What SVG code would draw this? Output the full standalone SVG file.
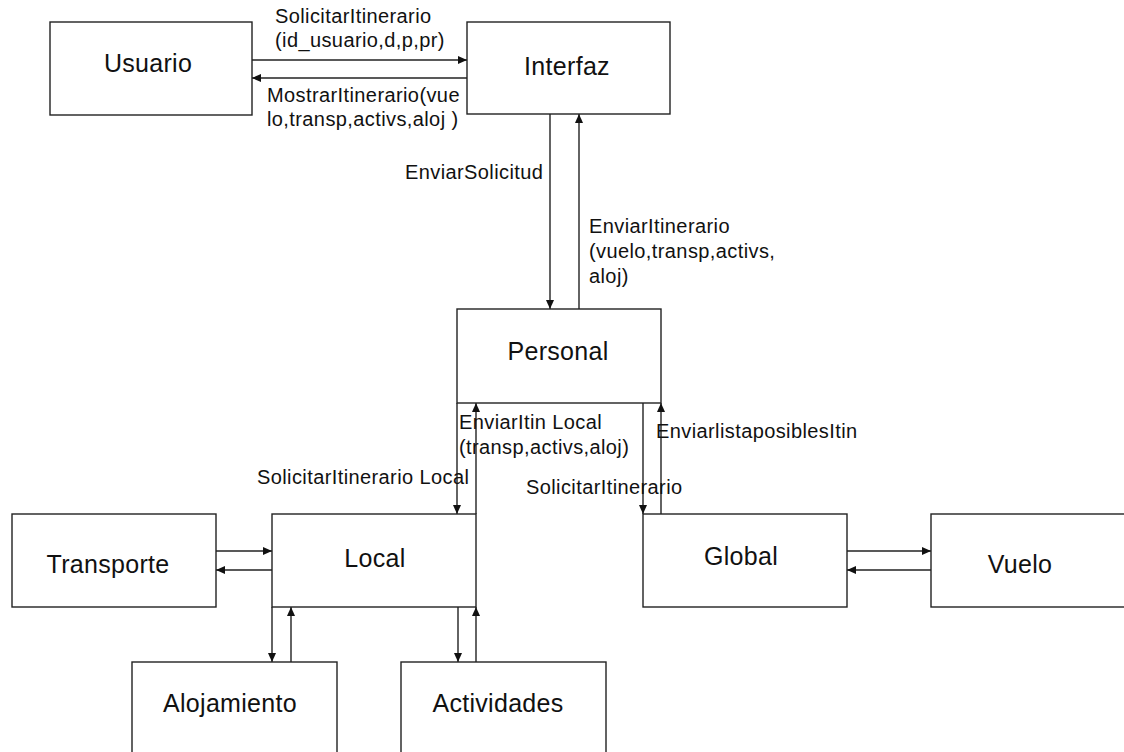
<svg xmlns="http://www.w3.org/2000/svg" width="1124" height="752" viewBox="0 0 1124 752">
  <style>
    .box { fill: #ffffff; stroke: #222222; stroke-width: 1.4; }
    .name { font-family: "Liberation Sans", Arial, sans-serif; font-size: 25px; fill: #111111; text-anchor: middle; letter-spacing: 0.3px; }
    .lbl { font-family: "Liberation Sans", Arial, sans-serif; font-size: 20px; fill: #111111; letter-spacing: 0.4px; }
    .wire { fill: none; stroke: #222222; stroke-width: 1.4; marker-end: url(#head); }
  </style>
  <defs>
    <marker id="head" markerUnits="userSpaceOnUse" markerWidth="10" markerHeight="8" refX="9" refY="4" orient="auto">
      <path d="M0,0 L9,4 L0,8 z" fill="#111111"/>
    </marker>
  </defs>
  <rect width="1124" height="752" fill="#ffffff"/>

  <g id="connectors">
    <path class="wire" d="M252,60 H467"/>
    <path class="wire" d="M467,78 H252"/>
    <path class="wire" d="M550,114 V309"/>
    <path class="wire" d="M579,309 V114"/>
    <path class="wire" d="M457,403 V514"/>
    <path class="wire" d="M476,514 V403"/>
    <path class="wire" d="M643,403 V514"/>
    <path class="wire" d="M661,514 V403"/>
    <path class="wire" d="M216,551 H272"/>
    <path class="wire" d="M272,570 H216"/>
    <path class="wire" d="M847,551 H931"/>
    <path class="wire" d="M931,570 H847"/>
    <path class="wire" d="M272,607 V662"/>
    <path class="wire" d="M291,662 V607"/>
    <path class="wire" d="M458,607 V662"/>
    <path class="wire" d="M476,662 V607"/>

    <text class="lbl" x="275" y="23">SolicitarItinerario</text>
    <text class="lbl" x="275" y="47">(id_usuario,d,p,pr)</text>
    <text class="lbl" x="267" y="102">MostrarItinerario(vue</text>
    <text class="lbl" x="267" y="126">lo,transp,activs,aloj )</text>
    <text class="lbl" x="405" y="179">EnviarSolicitud</text>
    <text class="lbl" x="589" y="233">EnviarItinerario</text>
    <text class="lbl" x="589" y="258">(vuelo,transp,activs,</text>
    <text class="lbl" x="589" y="283">aloj)</text>
    <text class="lbl" x="459" y="429">EnviarItin Local</text>
    <text class="lbl" x="459" y="454">(transp,activs,aloj)</text>
    <text class="lbl" x="257" y="484">SolicitarItinerario Local</text>
    <text class="lbl" x="526" y="494">SolicitarItinerario</text>
    <text class="lbl" x="656" y="438">EnviarlistaposiblesItin</text>
  </g>

  <g id="usuario">
    <rect class="box" x="50" y="22" width="202" height="93"/>
    <text class="name" x="148" y="72">Usuario</text>
  </g>
  <g id="interfaz">
    <rect class="box" x="467" y="22" width="203" height="92"/>
    <text class="name" x="567" y="75">Interfaz</text>
  </g>
  <g id="personal">
    <rect class="box" x="457" y="309" width="204" height="94"/>
    <text class="name" x="558" y="360">Personal</text>
  </g>
  <g id="transporte">
    <rect class="box" x="12" y="514" width="204" height="93"/>
    <text class="name" x="108" y="573">Transporte</text>
  </g>
  <g id="local">
    <rect class="box" x="272" y="514" width="204" height="93"/>
    <text class="name" x="375" y="567">Local</text>
  </g>
  <g id="global">
    <rect class="box" x="643" y="514" width="204" height="93"/>
    <text class="name" x="741" y="565">Global</text>
  </g>
  <g id="vuelo">
    <rect class="box" x="931" y="514" width="204" height="93"/>
    <text class="name" x="1020" y="573">Vuelo</text>
  </g>
  <g id="alojamiento">
    <rect class="box" x="132" y="662" width="205" height="100"/>
    <text class="name" x="230" y="712">Alojamiento</text>
  </g>
  <g id="actividades">
    <rect class="box" x="401" y="662" width="205" height="100"/>
    <text class="name" x="498" y="712">Actividades</text>
  </g>
</svg>
